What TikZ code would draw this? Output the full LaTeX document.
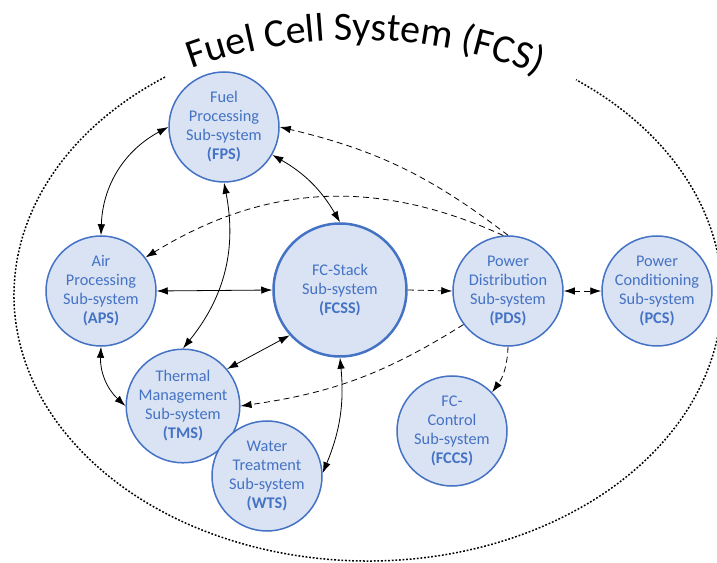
\documentclass[tikz,border=0pt]{standalone}
\usepackage{fontspec}
\setmainfont{Carlito}
\usepackage{xcolor}
\usepackage{tikz}
\usetikzlibrary{arrows.meta,positioning,decorations.text}
\definecolor{ringblue}{HTML}{4472C4}
\definecolor{paleblue}{HTML}{DAE3F3}
\newcommand{\titlefont}{\fontsize{40}{48}\selectfont}
\tikzset{
  subsys/.style={
    circle, draw=ringblue, fill=paleblue, line width=1.5pt,
    minimum size=110pt, inner sep=0pt,
    text=ringblue, align=center,
    font=\fontsize{16.3}{19}\selectfont
  },
  stackbox/.style={subsys, line width=2.5pt, minimum size=133pt},
  linkboth/.style={
    {Latex[length=11pt,width=7.5pt]}-{Latex[length=11pt,width=7.5pt]},
    line width=0.8pt, black
  },
  ctrlarrow/.style={
    -{Latex[length=11pt,width=7.5pt]}, line width=0.8pt, black,
    dash pattern=on 6pt off 4pt
  },
  ctrlboth/.style={ctrlarrow, {Latex[length=11pt,width=7.5pt]}-{Latex[length=11pt,width=7.5pt]}},
  boundary/.style={line width=1.5pt, dash pattern=on 1.8pt off 1.8pt}
}

\begin{document}
\begin{tikzpicture}[x=1pt, y=1pt]
  \useasboundingbox (0,0) rectangle (717,562);

  % system boundary and its title
  \draw[boundary] (368,267) ++(125:354pt and 266pt)
    arc[start angle=125, end angle=414, x radius=354pt, y radius=266pt];
  \path[decorate, decoration={text along path, text align=center,
      text={|\titlefont|Fuel Cell System (FCS)}}]
    (357,34) ++(112:488pt) arc[start angle=112, end angle=66, radius=488pt];

  % sub-systems
  \node[subsys] at (224,435) (fps) {Fuel\\Processing\\Sub-system\\\textbf{(FPS)}};
  \node[subsys] at (101,271) (aps) {Air\\Processing\\Sub-system\\\textbf{(APS)}};
  \node[stackbox] at (340,272) (fcss) {FC-Stack\\Sub-system\\\textbf{(FCSS)}};
  \node[subsys] at (508,271) (pds) {Power\\Distribution\\Sub-system\\\textbf{(PDS)}};
  \node[subsys] at (657,271) (pcs) {Power\\Conditioning\\Sub-system\\\textbf{(PCS)}};
  \node[subsys] at (452,131) (fccs) {FC-\\Control\\Sub-system\\\textbf{(FCCS)}};
  \node[subsys] at (183,156) (tms) {Thermal\\Management\\Sub-system\\\textbf{(TMS)}};
  \node[subsys] at (267,86) (wts) {Water\\Treatment\\Sub-system\\\textbf{(WTS)}};

  % material / energy links
  \draw[linkboth] (aps.north) to[bend left=30] (fps.west);
  \draw[linkboth] (fps.-30) to[bend left=15] (fcss.north);
  \draw[linkboth] (fps.south) to[bend left=25] (tms.north);
  \draw[linkboth] (aps.east) -- (fcss.west);
  \draw[linkboth] (aps.south) to[bend right=25] (tms.west);
  \draw[linkboth] (fcss.222) -- (tms.40);
  \draw[linkboth] (fcss.south) to[bend left=14] (wts.3);

  % power / control links
  \draw[ctrlarrow] (fcss.east) -- (pds.west);
  \draw[ctrlboth] (pds.east) -- (pcs.west);
  \draw[ctrlarrow] (pds.south) to[bend left=17] (fccs.44);
  \draw[ctrlarrow] (pds.north) to[bend right=12] (fps.east);
  \draw[ctrlarrow] (pds.95) to[bend right=28] (aps.37);
  \draw[ctrlarrow] (pds.217) to[bend left=12] (tms.east);
\end{tikzpicture}
\end{document}
